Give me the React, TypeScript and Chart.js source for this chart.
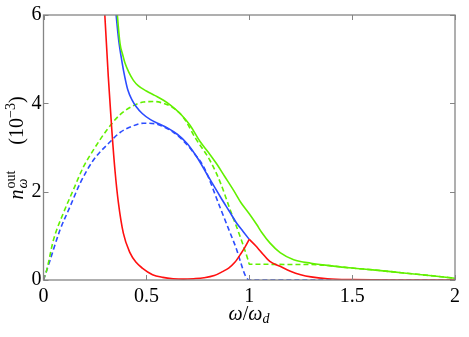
import React, { useEffect, useRef } from 'react';
import { Chart, registerables } from 'chart.js';

Chart.register(...registerables);
Chart.defaults.font.family = 'Liberation Serif';

// ---- data ----
const xTicks = [0, 0.5, 1, 1.5, 2];
const yTicks = [0, 2, 4, 6];

// red: left branch (up to the cusp at 1) and right branch
const redLeftX = [0.27, 0.285, 0.298, 0.315, 0.332, 0.348, 0.364, 0.388, 0.42, 0.45, 0.48, 0.53, 0.58, 0.63, 0.68, 0.73, 0.78, 0.83, 0.87, 0.9, 0.93, 0.96, 0.98, 1.0];
const redLeftY = [8.5, 7.0, 6.0, 4.6, 3.4, 2.45, 1.75, 1.06, 0.62, 0.4, 0.27, 0.12, 0.06, 0.03, 0.02, 0.03, 0.05, 0.1, 0.19, 0.27, 0.4, 0.6, 0.75, 0.92];
const redRightX = [1.0, 1.03, 1.06, 1.1, 1.15, 1.2, 1.25, 1.3, 1.38, 1.5, 1.7, 2.0];
const redRightY = [0.92, 0.78, 0.62, 0.42, 0.31, 0.2, 0.12, 0.07, 0.03, 0.01, 0.0, 0.0];

const blueX = [0.34, 0.353, 0.365, 0.38, 0.395, 0.41, 0.43, 0.45, 0.48, 0.52, 0.56, 0.6, 0.65, 0.7, 0.75, 0.8, 0.86, 0.9, 0.94, 0.97, 1.0];
const blueY = [6.7, 6.0, 5.45, 4.98, 4.6, 4.3, 4.08, 3.93, 3.77, 3.63, 3.54, 3.45, 3.3, 3.08, 2.75, 2.35, 1.88, 1.58, 1.28, 1.1, 0.92];

const greenX = [0.35, 0.359, 0.372, 0.385, 0.397, 0.415, 0.437, 0.46, 0.5, 0.54, 0.583, 0.62, 0.664, 0.713, 0.76, 0.8, 0.843, 0.88, 0.924, 0.96, 1.0, 1.037, 1.06, 1.1, 1.15, 1.216, 1.3, 1.4, 1.5, 1.6, 1.75, 1.9, 2.0];
const greenY = [6.6, 6.0, 5.35, 5.1, 4.9, 4.7, 4.52, 4.4, 4.28, 4.18, 4.07, 3.95, 3.77, 3.5, 3.14, 2.9, 2.62, 2.35, 2.03, 1.75, 1.5, 1.25, 1.08, 0.84, 0.62, 0.46, 0.38, 0.32, 0.27, 0.23, 0.16, 0.09, 0.04];

const greenDashX = [0, 0.016, 0.048, 0.096, 0.145, 0.194, 0.242, 0.307, 0.369, 0.43, 0.486, 0.54, 0.583, 0.63, 0.68, 0.74, 0.81, 0.86, 0.908, 0.956, 0.997, 1.0, 1.1, 1.2, 1.3, 1.4, 1.5, 1.6, 1.75, 1.9, 2.0];
const greenDashY = [0, 0.23, 0.9, 1.51, 2.04, 2.56, 2.94, 3.39, 3.73, 3.93, 4.03, 4.04, 4.0, 3.9, 3.68, 3.2, 2.7, 2.2, 1.58, 0.98, 0.41, 0.36, 0.355, 0.35, 0.35, 0.32, 0.27, 0.23, 0.16, 0.09, 0.04];

const blueDashX = [0, 0.032, 0.08, 0.129, 0.178, 0.242, 0.324, 0.372, 0.43, 0.486, 0.54, 0.583, 0.63, 0.68, 0.73, 0.78, 0.86, 0.93, 1.0, 2.0];
const blueDashY = [0, 0.45, 1.13, 1.66, 2.19, 2.71, 3.13, 3.34, 3.48, 3.55, 3.54, 3.47, 3.35, 3.15, 2.88, 2.55, 1.62, 0.8, 0, 0];

const RED = '#ff1010';
const BLUE = '#2c4cff';
const GREEN = '#62f000';
const AXIS = '#858585';
const SERIF = 'Liberation Serif';

function pts(xs: number[], ys: number[]) {
  return xs.map((x, i) => ({ x, y: ys[i] }));
}

const framePlugin = {
  id: 'frame',
  afterDraw(chart: any) {
    const { ctx, chartArea: a, scales } = chart;
    const xs = scales.x;
    const ys = scales.y;
    ctx.save();
    ctx.strokeStyle = AXIS;
    ctx.lineWidth = 1;
    ctx.beginPath();
    const tl = 5;
    xTicks.forEach((t) => {
      const px = Math.round(xs.getPixelForValue(t)) + 0.5;
      ctx.moveTo(px, a.bottom);
      ctx.lineTo(px, a.bottom - tl);
      ctx.moveTo(px, a.top);
      ctx.lineTo(px, a.top + tl);
    });
    yTicks.forEach((t) => {
      const py = Math.round(ys.getPixelForValue(t)) + 0.5;
      ctx.moveTo(a.left, py);
      ctx.lineTo(a.left + tl, py);
      ctx.moveTo(a.right, py);
      ctx.lineTo(a.right - tl, py);
    });
    ctx.stroke();
    ctx.lineWidth = 1.3;
    ctx.strokeRect(a.left, a.top, a.right - a.left, a.bottom - a.top);
    ctx.restore();
  },
};

const titleBase: React.CSSProperties = {
  position: 'absolute',
  fontFamily: '"Liberation Serif", serif',
  fontSize: 20,
  lineHeight: '20px',
  color: '#000',
  whiteSpace: 'nowrap',
  textAlign: 'center',
};

export default function App() {
  const ref = useRef<HTMLCanvasElement | null>(null);
  useEffect(() => {
    if (!ref.current) return;
    const line = (data: any, color: string, dashed: boolean, order: number) => ({
      data,
      borderColor: color,
      backgroundColor: color,
      borderWidth: 1.6,
      borderDash: dashed ? [5, 3] : [],
      pointRadius: 0,
      cubicInterpolationMode: 'monotone',
      fill: false,
      order,
    });
    const tickFont = { family: SERIF, size: 20, style: 'normal' as const, weight: 'normal' as const };
    const chart = new Chart(ref.current, {
      type: 'line',
      data: {
        datasets: [
          line(pts(blueDashX, blueDashY), BLUE, true, 5),
          line(pts(greenDashX, greenDashY), GREEN, true, 4),
          line(pts(blueX, blueY), BLUE, false, 3),
          line(pts(greenX, greenY), GREEN, false, 2),
          line(pts(redLeftX, redLeftY), RED, false, 1),
          line(pts(redRightX, redRightY), RED, false, 0),
        ],
      },
      options: {
        animation: false,
        responsive: false,
        layout: { padding: { left: 0, right: 14, top: 15, bottom: 0 } },
        plugins: { legend: { display: false }, tooltip: { enabled: false } },
        scales: {
          x: {
            type: 'linear',
            min: 0,
            max: 2,
            afterFit: (s: any) => {
              s.height = 57;
            },
            afterBuildTicks: (s: any) => {
              s.ticks = xTicks.map((v) => ({ value: v }));
            },
            grid: { display: false, drawTicks: false },
            border: { display: false },
            ticks: {
              padding: 5,
              color: '#000',
              font: tickFont,
              maxRotation: 0,
              callback: (v: any) => String(v),
            },
          },
          y: {
            type: 'linear',
            min: 0,
            max: 6,
            afterFit: (s: any) => {
              s.width = 43.5;
            },
            afterBuildTicks: (s: any) => {
              s.ticks = yTicks.map((v) => ({ value: v }));
            },
            grid: { display: false, drawTicks: false },
            border: { display: false },
            ticks: {
              padding: 2,
              color: '#000',
              font: tickFont,
              callback: (v: any) => String(v),
            },
          },
        },
      },
      plugins: [framePlugin],
    } as any);
    const fonts = (document as any).fonts;
    if (fonts && fonts.ready) fonts.ready.then(() => chart.update()).catch(() => {});
    const t1 = setTimeout(() => chart.update(), 30);
    return () => {
      clearTimeout(t1);
      chart.destroy();
    };
  }, []);
  return (
    <div style={{ position: 'absolute', left: 0, top: 0, width: 469, height: 337, background: '#fff', overflow: 'hidden' }}>
      <canvas ref={ref} width={469} height={337} style={{ display: 'block' }} />
      {/* x-axis title */}
      <div style={{ ...titleBase, left: 149, width: 200, top: 303 }}>
        <i>ω</i>/<i>ω</i>
        <i style={{ fontSize: 14, lineHeight: 0, verticalAlign: -3 }}>d</i>
      </div>
      {/* y-axis title, rotated */}
      <div
        style={{
          ...titleBase,
          left: 14.5 - 90,
          width: 180,
          top: 147.5 - 10,
          height: 20,
          transform: 'rotate(-90deg)',
          transformOrigin: '50% 50%',
        }}
      >
        <i>n</i>
        <span
          style={{
            display: 'inline-block',
            verticalAlign: -4,
            lineHeight: '12px',
            fontSize: 14,
            textAlign: 'left',
            marginLeft: 1,
          }}
        >
          <span style={{ display: 'block' }}>out</span>
          <i style={{ display: 'block' }}>ω</i>
        </span>
        <span style={{ display: 'inline-block', width: 26 }} />
        (10
        <span style={{ fontSize: 14, lineHeight: 0, verticalAlign: 8 }}>−3</span>)
      </div>
    </div>
  );
}
